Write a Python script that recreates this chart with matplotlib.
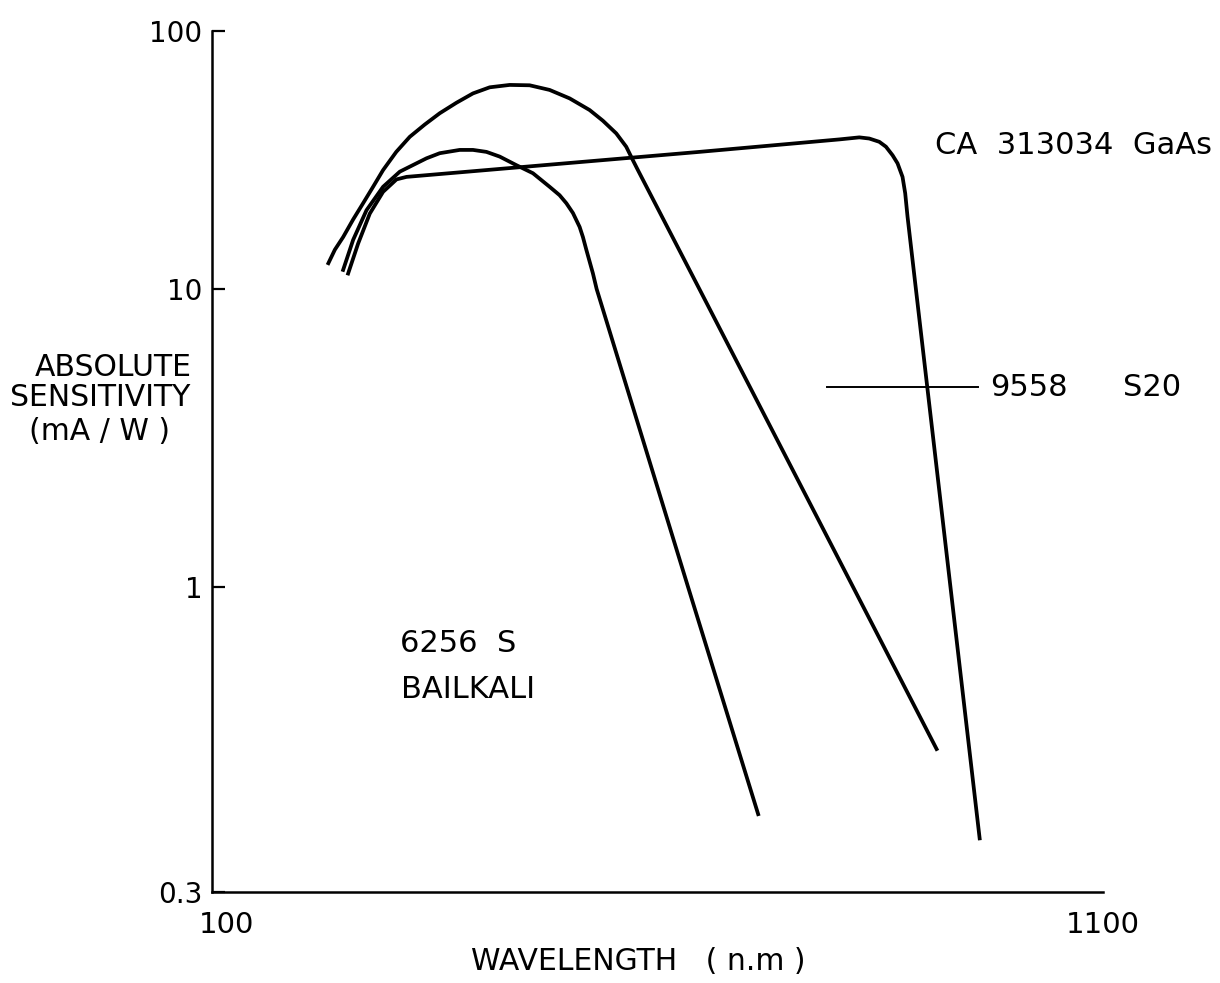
import numpy as np
import matplotlib
matplotlib.use("Agg")
import matplotlib.pyplot as plt
from matplotlib.transforms import ScaledTranslation

# ---------------- data ----------------
# 9558 S20 photocathode
s20_wl = [229.7, 237.9, 247.2, 258.4, 269.6, 280.8, 292.0, 306.8, 322.0, 338.8,
          355.6, 374.3, 392.9, 411.7, 434.1, 456.5, 478.9, 501.4, 523.8, 538.7,
          553.7, 564.9, 572.3, 578.0, 647.0, 819.5, 914.2]
s20_sens = [12.4, 14.2, 15.9, 18.6, 21.5, 24.9, 28.9, 34.0, 38.9, 43.4,
            48.0, 52.7, 57.3, 60.5, 61.8, 61.6, 59.1, 54.8, 49.4, 44.9,
            40.1, 35.6, 31.6, 28.9, 10.0, 1.0, 0.524]

# 6256 S bialkali
bialk_wl = [246.5, 258.4, 273.4, 292.0, 310.8, 340.7, 355.6, 378.0, 392.9, 408.0,
            422.9, 441.6, 460.2, 478.9, 490.1, 497.7, 505.1, 512.6, 516.3, 520.1,
            527.5, 531.7, 634.3, 713.6]
bialk_sens = [11.67, 15.5, 20.2, 24.9, 28.5, 32.1, 33.6, 34.6, 34.6, 34.0,
              32.6, 30.2, 28.1, 24.9, 23.1, 21.5, 19.7, 17.4, 15.9, 14.2,
              11.5, 10.0, 1.0, 0.405]

# CA 313034 GaAs
gaas_wl = [252.1, 264.0, 277.1, 292.0, 307.1, 318.3, 647.1, 804.0, 826.5, 837.7,
           848.9, 856.4, 863.8, 869.4, 875.0, 878.0, 880.6, 890.0, 928.8, 961.8]
gaas_sens = [11.3, 15.0, 19.6, 23.8, 26.6, 27.2, 34.0, 38.0, 38.7, 38.3,
             37.2, 35.6, 33.0, 30.7, 27.2, 23.5, 19.1, 10.0, 1.0, 0.368]

# leader line for the "9558 S20" label
leader_wl = [790.6, 960.2]
leader_sens = [4.70, 4.70]

x_ticks = [100, 1100]
x_ticklabels = ["100", "1100"]
y_ticks = [0.3, 1, 10, 100]
y_ticklabels = ["0.3", "1", "10", "100"]

# hand-drawn log axis: tick positions are not evenly spaced per decade
scale_logs = np.log10(np.array(y_ticks, dtype=float))
scale_pos = np.array([0.0, 305.0, 603.0, 861.0])


def _fwd(y):
    y = np.asarray(y, dtype=float)
    t = np.log10(np.clip(y, 1e-9, None))
    lo = (scale_pos[1] - scale_pos[0]) / (scale_logs[1] - scale_logs[0])
    hi = (scale_pos[-1] - scale_pos[-2]) / (scale_logs[-1] - scale_logs[-2])
    out = np.interp(t, scale_logs, scale_pos)
    out = np.where(t < scale_logs[0], scale_pos[0] + (t - scale_logs[0]) * lo, out)
    out = np.where(t > scale_logs[-1], scale_pos[-1] + (t - scale_logs[-1]) * hi, out)
    return out


def _inv(p):
    p = np.asarray(p, dtype=float)
    lo = (scale_pos[1] - scale_pos[0]) / (scale_logs[1] - scale_logs[0])
    hi = (scale_pos[-1] - scale_pos[-2]) / (scale_logs[-1] - scale_logs[-2])
    t = np.interp(p, scale_pos, scale_logs)
    t = np.where(p < scale_pos[0], scale_logs[0] + (p - scale_pos[0]) / lo, t)
    t = np.where(p > scale_pos[-1], scale_logs[-1] + (p - scale_pos[-1]) / hi, t)
    return 10.0 ** t


plt.rcParams["font.family"] = ["DejaVu Sans"]

W, H = 1220, 983
fig = plt.figure(figsize=(W / 100, H / 100), dpi=100)
fig.patch.set_facecolor("white")

ax_l, ax_r, ax_t, ax_b = 212, 1103, 31, 892
ax = fig.add_axes([ax_l / W, 1 - ax_b / H, (ax_r - ax_l) / W, (ax_b - ax_t) / H])
ax.set_yscale("function", functions=(_fwd, _inv))
ax.set_xlim(100, 1100)
ax.set_ylim(0.3, 100)

lw = 2.7
for xs, ys in [(s20_wl, s20_sens), (bialk_wl, bialk_sens), (gaas_wl, gaas_sens)]:
    ax.plot(xs, ys, color="black", lw=lw, solid_capstyle="butt",
            solid_joinstyle="round", clip_on=False)
ax.plot(leader_wl, leader_sens, color="black", lw=1.4, clip_on=False)

for s in ["top", "right"]:
    ax.spines[s].set_visible(False)
for s in ["left", "bottom"]:
    ax.spines[s].set_linewidth(1.8)
    ax.spines[s].set_color("black")

ax.set_yticks(y_ticks)
ax.set_yticklabels(y_ticklabels)
ax.yaxis.set_minor_locator(matplotlib.ticker.NullLocator())
ax.yaxis.set_tick_params(which="major", direction="in", length=9.5, width=1.6,
                         labelsize=20, pad=7)

ax.set_xticks(x_ticks)
ax.set_xticklabels(x_ticklabels)
ax.xaxis.set_minor_locator(matplotlib.ticker.NullLocator())
ax.xaxis.set_tick_params(which="major", length=0, labelsize=21, pad=14)
first = ax.get_xticklabels()[0]
first.set_transform(first.get_transform() + ScaledTranslation(14 / 100, 0, fig.dpi_scale_trans))


def ftext(x, y, s, **kw):
    fig.text(x / W, 1 - y / H, s, **kw)


# axis titles
ftext(113, 368, "ABSOLUTE", fontsize=21.5, ha="center", va="center")
ftext(100, 398, "SENSITIVITY", fontsize=21.5, ha="center", va="center")
ftext(100, 431, "(mA / W )", fontsize=21.5, ha="center", va="center")
ftext(638, 962, "WAVELENGTH   ( n.m )", fontsize=21.5, ha="center", va="center")

# curve labels
ftext(935, 146, "CA  313034  GaAs", fontsize=22, ha="left", va="center")
ftext(990, 387, "9558", fontsize=22, ha="left", va="center")
ftext(1123, 387, "S20", fontsize=22, ha="left", va="center")
ftext(400, 644, "6256  S", fontsize=22, ha="left", va="center")
ftext(401, 690, "BAILKALI", fontsize=22, ha="left", va="center")

fig.savefig("out.png", dpi=100, facecolor="white")
